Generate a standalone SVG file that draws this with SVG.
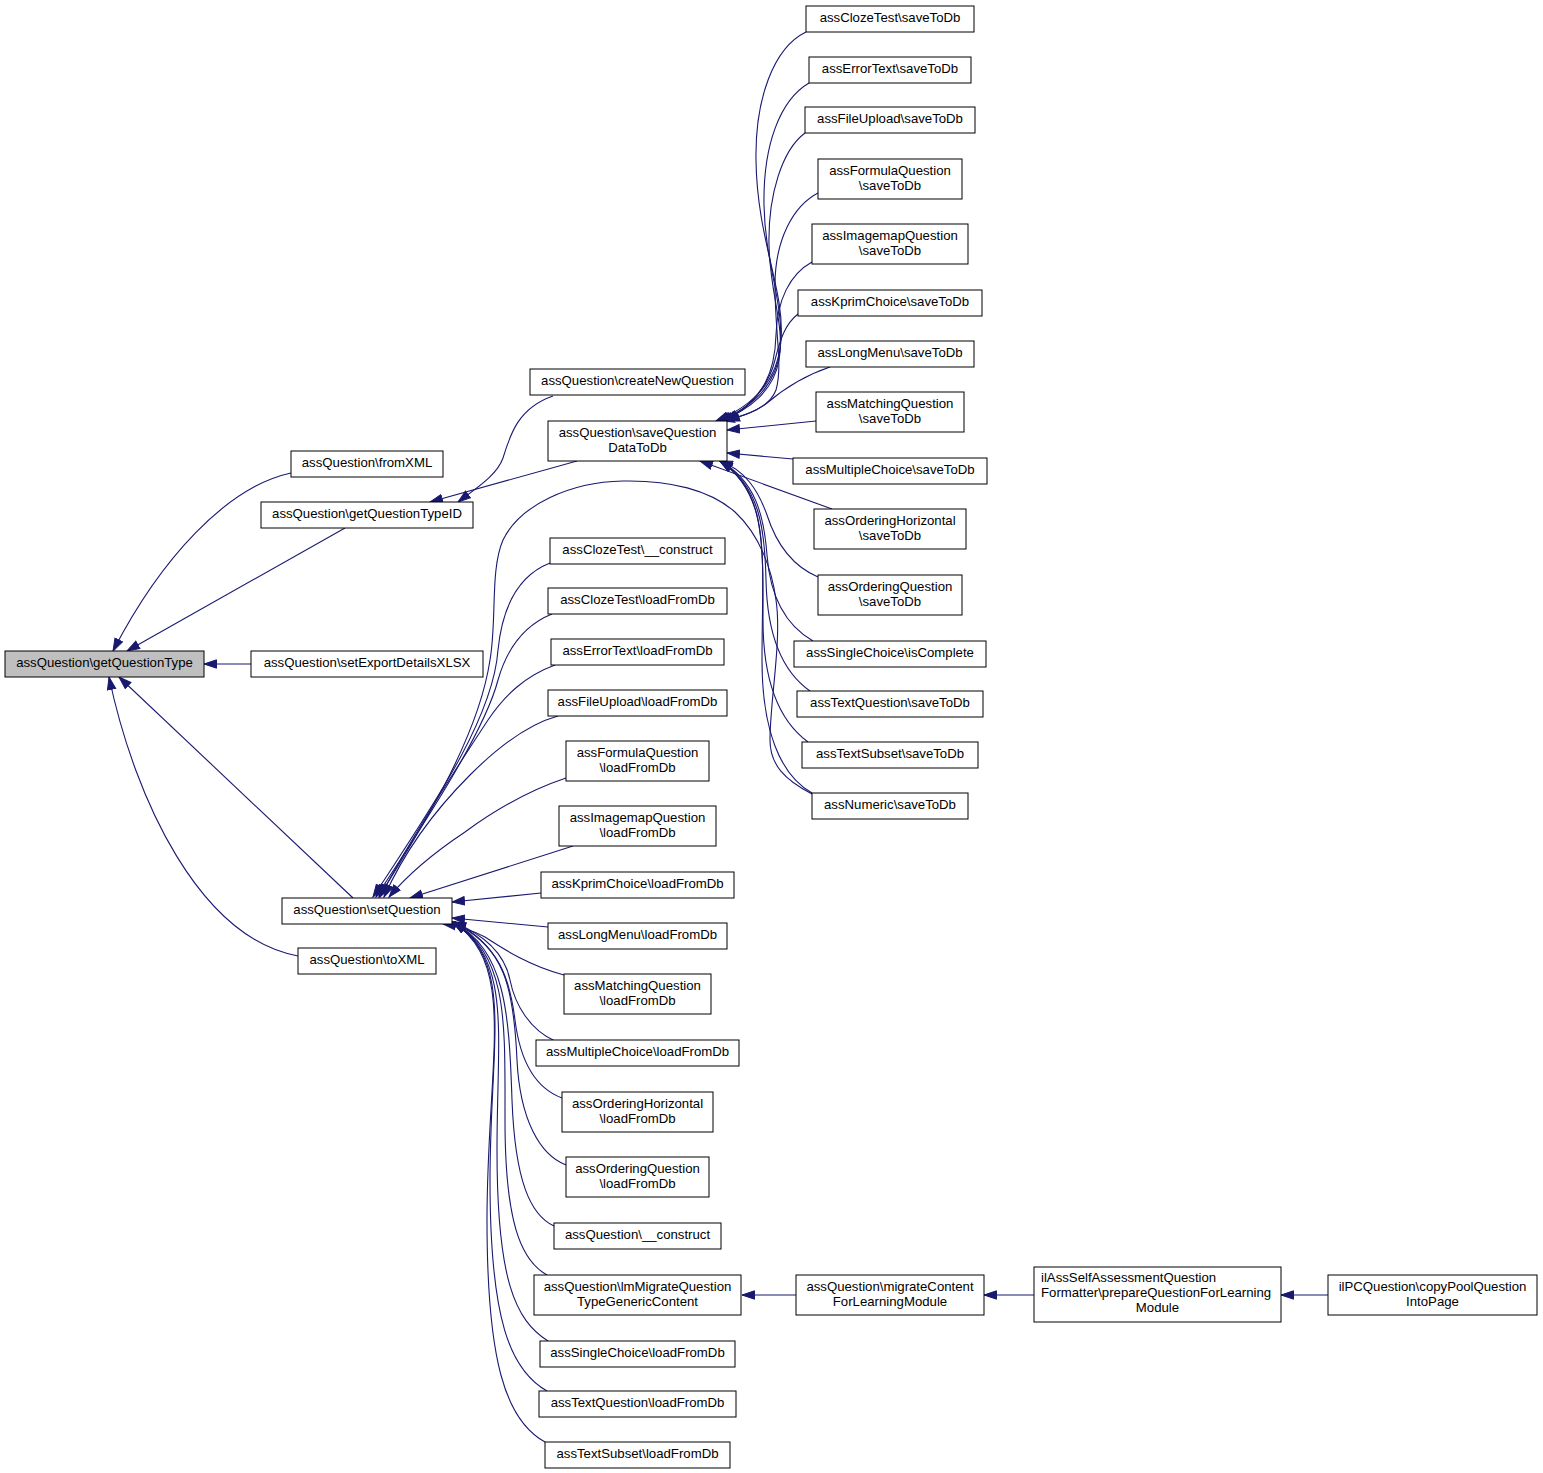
<svg xmlns="http://www.w3.org/2000/svg" width="1543" height="1473" viewBox="0 0 1543 1473">
<style>
.node rect{fill:#ffffff;stroke:#000000;stroke-width:1}
.root rect{fill:#bfbfbf}
text{font-family:"Liberation Sans",Arial,Helvetica,sans-serif;font-size:13.2px;fill:#000000;text-anchor:middle}
text.l{text-anchor:start}
.edges path{fill:none;stroke:#191970;stroke-width:1.1;marker-end:url(#arr)}
</style>
<defs>
<marker id="arr" markerUnits="userSpaceOnUse" markerWidth="14" markerHeight="10" viewBox="0 0 14 10" refX="13" refY="5" orient="auto">
<path d="M0.5,0.8 L13,5 L0.5,9.2 z" fill="#191970" stroke="#191970" stroke-width="1"/>
</marker>
</defs>
<rect x="0" y="0" width="1543" height="1473" fill="#ffffff"/>
<g class="edges" id="edges">
<path d="M291,473 C226,487 160,560 113,651"/>
<path d="M345,528 L127,651"/>
<path d="M251,664 L204,664"/>
<path d="M353,898 L119,677"/>
<path d="M298,956 C200,938 135,800 109,677"/>
<path d="M553,396 C518,408 510,435 503,458 C497,475 478,487 458,502"/>
<path d="M577,461 L430,502"/>
<path d="M806,32 C773,48 755,100 756,160 C757,240 785,290 781,340 C778,380 755,405 716,421"/>
<path d="M809,83 C780,100 763,145 764,205 C765,265 785,305 780,350 C776,385 752,408 718,421"/>
<path d="M805,133 C782,150 768,195 769,245 C770,295 785,325 779,360 C774,390 750,410 720,421"/>
<path d="M818,193 C793,206 775,240 775,285 C775,335 783,365 776,390 C769,408 748,415 722,421"/>
<path d="M812,262 C790,274 777,300 776,335 C775,370 765,400 724,421"/>
<path d="M798,314 C785,324 780,340 775,360 C769,385 752,405 726,421"/>
<path d="M830,367 C800,377 780,392 767,403 C755,412 742,416 727,421"/>
<path d="M816,421 L727,430"/>
<path d="M793,459 L727,453"/>
<path d="M832,509 L700,461"/>
<path d="M818,577 C790,565 775,540 767,515 C758,490 745,470 720,461"/>
<path d="M813,641 C785,625 770,595 767,555 C764,515 755,480 720,461"/>
<path d="M810,691 C780,670 767,630 766,580 C765,530 760,485 720,461"/>
<path d="M808,742 C778,720 763,680 763,620 C763,540 765,490 720,461"/>
<path d="M812,793 C780,775 762,730 762,660 C762,560 772,495 720,461"/>
<path d="M812,794 C785,780 770,765 770,740 C770,700 782,640 776,600 C772,570 760,535 735,512 C710,490 670,480 623,481 C570,482 520,505 503,540 C490,570 497,620 490,660 C478,740 420,830 379,897"/>
<path d="M550,563 C522,574 503,600 498,650 C493,720 430,810 373,897"/>
<path d="M552,614 C527,624 508,645 498,680 C485,730 430,815 376,897"/>
<path d="M555,665 C525,676 505,695 488,720 C455,770 410,840 380,897"/>
<path d="M558,716 C525,725 495,750 470,775 C435,810 405,850 384,897"/>
<path d="M566,778 C530,790 495,810 465,832 C435,852 410,872 389,897"/>
<path d="M573,846 L410,898"/>
<path d="M541,893 L452,902"/>
<path d="M548,927 L452,918"/>
<path d="M564,975 C530,966 505,950 485,937 C472,930 458,926 443,924"/>
<path d="M555,1041 C530,1030 515,1005 510,980 C505,955 485,935 453,922"/>
<path d="M562,1098 C535,1088 520,1060 515,1020 C510,980 500,945 453,922"/>
<path d="M566,1165 C540,1155 520,1120 517,1060 C514,990 505,945 453,922"/>
<path d="M554,1226 C530,1215 515,1180 512,1100 C509,1010 505,950 453,922"/>
<path d="M547,1275 C520,1260 505,1220 505,1120 C505,1020 508,955 453,922"/>
<path d="M548,1341 C515,1320 497,1280 497,1150 C497,1030 512,960 453,922"/>
<path d="M547,1391 C510,1370 490,1320 490,1180 C490,1040 515,962 453,922"/>
<path d="M545,1442 C505,1420 487,1360 487,1220 C487,1060 518,965 453,922"/>
<path d="M796,1295 L742,1295"/>
<path d="M1034,1295 L984,1295"/>
<path d="M1328,1295 L1281,1295"/>
</g>
<g id="n_getQuestionType" class="node root"><rect x="5" y="651" width="199" height="26"/><text x="104.5" y="667">assQuestion\getQuestionType</text></g>
<g id="n_fromXML" class="node"><rect x="291" y="451" width="152" height="26"/><text x="367" y="467">assQuestion\fromXML</text></g>
<g id="n_getQuestionTypeID" class="node"><rect x="261" y="502" width="212" height="26"/><text x="367" y="518">assQuestion\getQuestionTypeID</text></g>
<g id="n_setExportDetailsXLSX" class="node"><rect x="251" y="651" width="232" height="26"/><text x="367" y="667">assQuestion\setExportDetailsXLSX</text></g>
<g id="n_setQuestion" class="node"><rect x="282" y="898" width="170" height="26"/><text x="367" y="914">assQuestion\setQuestion</text></g>
<g id="n_toXML" class="node"><rect x="298" y="948" width="138" height="26"/><text x="367" y="964">assQuestion\toXML</text></g>
<g id="n_createNewQuestion" class="node"><rect x="530" y="369" width="215" height="26"/><text x="637.5" y="385">assQuestion\createNewQuestion</text></g>
<g id="n_saveQuestionDataToDb" class="node"><rect x="548" y="421" width="179" height="40"/><text x="637.5" y="436.5">assQuestion\saveQuestion</text><text x="637.5" y="451.5">DataToDb</text></g>
<g id="n_ClozeTest_saveToDb" class="node"><rect x="806" y="6" width="168" height="26"/><text x="890" y="22">assClozeTest\saveToDb</text></g>
<g id="n_ErrorText_saveToDb" class="node"><rect x="809" y="57" width="162" height="26"/><text x="890" y="73">assErrorText\saveToDb</text></g>
<g id="n_FileUpload_saveToDb" class="node"><rect x="805" y="107" width="170" height="26"/><text x="890" y="123">assFileUpload\saveToDb</text></g>
<g id="n_FormulaQuestion_saveToDb" class="node"><rect x="818" y="159" width="144" height="40"/><text x="890" y="174.5">assFormulaQuestion</text><text x="890" y="189.5">\saveToDb</text></g>
<g id="n_ImagemapQuestion_saveToDb" class="node"><rect x="812" y="224" width="156" height="40"/><text x="890" y="239.5">assImagemapQuestion</text><text x="890" y="254.5">\saveToDb</text></g>
<g id="n_KprimChoice_saveToDb" class="node"><rect x="798" y="290" width="184" height="26"/><text x="890" y="306">assKprimChoice\saveToDb</text></g>
<g id="n_LongMenu_saveToDb" class="node"><rect x="806" y="341" width="168" height="26"/><text x="890" y="357">assLongMenu\saveToDb</text></g>
<g id="n_MatchingQuestion_saveToDb" class="node"><rect x="816" y="392" width="148" height="40"/><text x="890" y="407.5">assMatchingQuestion</text><text x="890" y="422.5">\saveToDb</text></g>
<g id="n_MultipleChoice_saveToDb" class="node"><rect x="793" y="458" width="194" height="26"/><text x="890" y="474">assMultipleChoice\saveToDb</text></g>
<g id="n_OrderingHorizontal_saveToDb" class="node"><rect x="814" y="509" width="152" height="40"/><text x="890" y="524.5">assOrderingHorizontal</text><text x="890" y="539.5">\saveToDb</text></g>
<g id="n_OrderingQuestion_saveToDb" class="node"><rect x="818" y="575" width="144" height="40"/><text x="890" y="590.5">assOrderingQuestion</text><text x="890" y="605.5">\saveToDb</text></g>
<g id="n_SingleChoice_isComplete" class="node"><rect x="794" y="641" width="192" height="26"/><text x="890" y="657">assSingleChoice\isComplete</text></g>
<g id="n_TextQuestion_saveToDb" class="node"><rect x="797" y="691" width="186" height="26"/><text x="890" y="707">assTextQuestion\saveToDb</text></g>
<g id="n_TextSubset_saveToDb" class="node"><rect x="802" y="742" width="176" height="26"/><text x="890" y="758">assTextSubset\saveToDb</text></g>
<g id="n_Numeric_saveToDb" class="node"><rect x="812" y="793" width="156" height="26"/><text x="890" y="809">assNumeric\saveToDb</text></g>
<g id="n_ClozeTest_construct" class="node"><rect x="550" y="538" width="175" height="26"/><text x="637.5" y="554">assClozeTest\__construct</text></g>
<g id="n_ClozeTest_loadFromDb" class="node"><rect x="548" y="588" width="179" height="26"/><text x="637.5" y="604">assClozeTest\loadFromDb</text></g>
<g id="n_ErrorText_loadFromDb" class="node"><rect x="551" y="639" width="173" height="26"/><text x="637.5" y="655">assErrorText\loadFromDb</text></g>
<g id="n_FileUpload_loadFromDb" class="node"><rect x="548" y="690" width="179" height="26"/><text x="637.5" y="706">assFileUpload\loadFromDb</text></g>
<g id="n_FormulaQuestion_loadFromDb" class="node"><rect x="566" y="741" width="143" height="40"/><text x="637.5" y="756.5">assFormulaQuestion</text><text x="637.5" y="771.5">\loadFromDb</text></g>
<g id="n_ImagemapQuestion_loadFromDb" class="node"><rect x="559" y="806" width="157" height="40"/><text x="637.5" y="821.5">assImagemapQuestion</text><text x="637.5" y="836.5">\loadFromDb</text></g>
<g id="n_KprimChoice_loadFromDb" class="node"><rect x="541" y="872" width="193" height="26"/><text x="637.5" y="888">assKprimChoice\loadFromDb</text></g>
<g id="n_LongMenu_loadFromDb" class="node"><rect x="548" y="923" width="179" height="26"/><text x="637.5" y="939">assLongMenu\loadFromDb</text></g>
<g id="n_MatchingQuestion_loadFromDb" class="node"><rect x="564" y="974" width="147" height="40"/><text x="637.5" y="989.5">assMatchingQuestion</text><text x="637.5" y="1004.5">\loadFromDb</text></g>
<g id="n_MultipleChoice_loadFromDb" class="node"><rect x="536" y="1040" width="203" height="26"/><text x="637.5" y="1056">assMultipleChoice\loadFromDb</text></g>
<g id="n_OrderingHorizontal_loadFromDb" class="node"><rect x="562" y="1092" width="151" height="40"/><text x="637.5" y="1107.5">assOrderingHorizontal</text><text x="637.5" y="1122.5">\loadFromDb</text></g>
<g id="n_OrderingQuestion_loadFromDb" class="node"><rect x="566" y="1157" width="143" height="40"/><text x="637.5" y="1172.5">assOrderingQuestion</text><text x="637.5" y="1187.5">\loadFromDb</text></g>
<g id="n_assQuestion_construct" class="node"><rect x="554" y="1223" width="167" height="26"/><text x="637.5" y="1239">assQuestion\__construct</text></g>
<g id="n_lmMigrate" class="node"><rect x="534" y="1275" width="207" height="40"/><text x="637.5" y="1290.5">assQuestion\lmMigrateQuestion</text><text x="637.5" y="1305.5">TypeGenericContent</text></g>
<g id="n_SingleChoice_loadFromDb" class="node"><rect x="540" y="1341" width="195" height="26"/><text x="637.5" y="1357">assSingleChoice\loadFromDb</text></g>
<g id="n_TextQuestion_loadFromDb" class="node"><rect x="539" y="1391" width="197" height="26"/><text x="637.5" y="1407">assTextQuestion\loadFromDb</text></g>
<g id="n_TextSubset_loadFromDb" class="node"><rect x="545" y="1442" width="185" height="26"/><text x="637.5" y="1458">assTextSubset\loadFromDb</text></g>
<g id="n_migrateContent" class="node"><rect x="796" y="1275" width="188" height="40"/><text x="890" y="1290.5">assQuestion\migrateContent</text><text x="890" y="1305.5">ForLearningModule</text></g>
<g id="n_prepareQuestion" class="node"><rect x="1034" y="1267" width="247" height="55"/><text class="l" x="1041" y="1282">ilAssSelfAssessmentQuestion</text><text class="l" x="1041" y="1297">Formatter\prepareQuestionForLearning</text><text x="1157.5" y="1312">Module</text></g>
<g id="n_copyPoolQuestion" class="node"><rect x="1328" y="1275" width="209" height="40"/><text x="1432.5" y="1290.5">ilPCQuestion\copyPoolQuestion</text><text x="1432.5" y="1305.5">IntoPage</text></g>
</svg>
